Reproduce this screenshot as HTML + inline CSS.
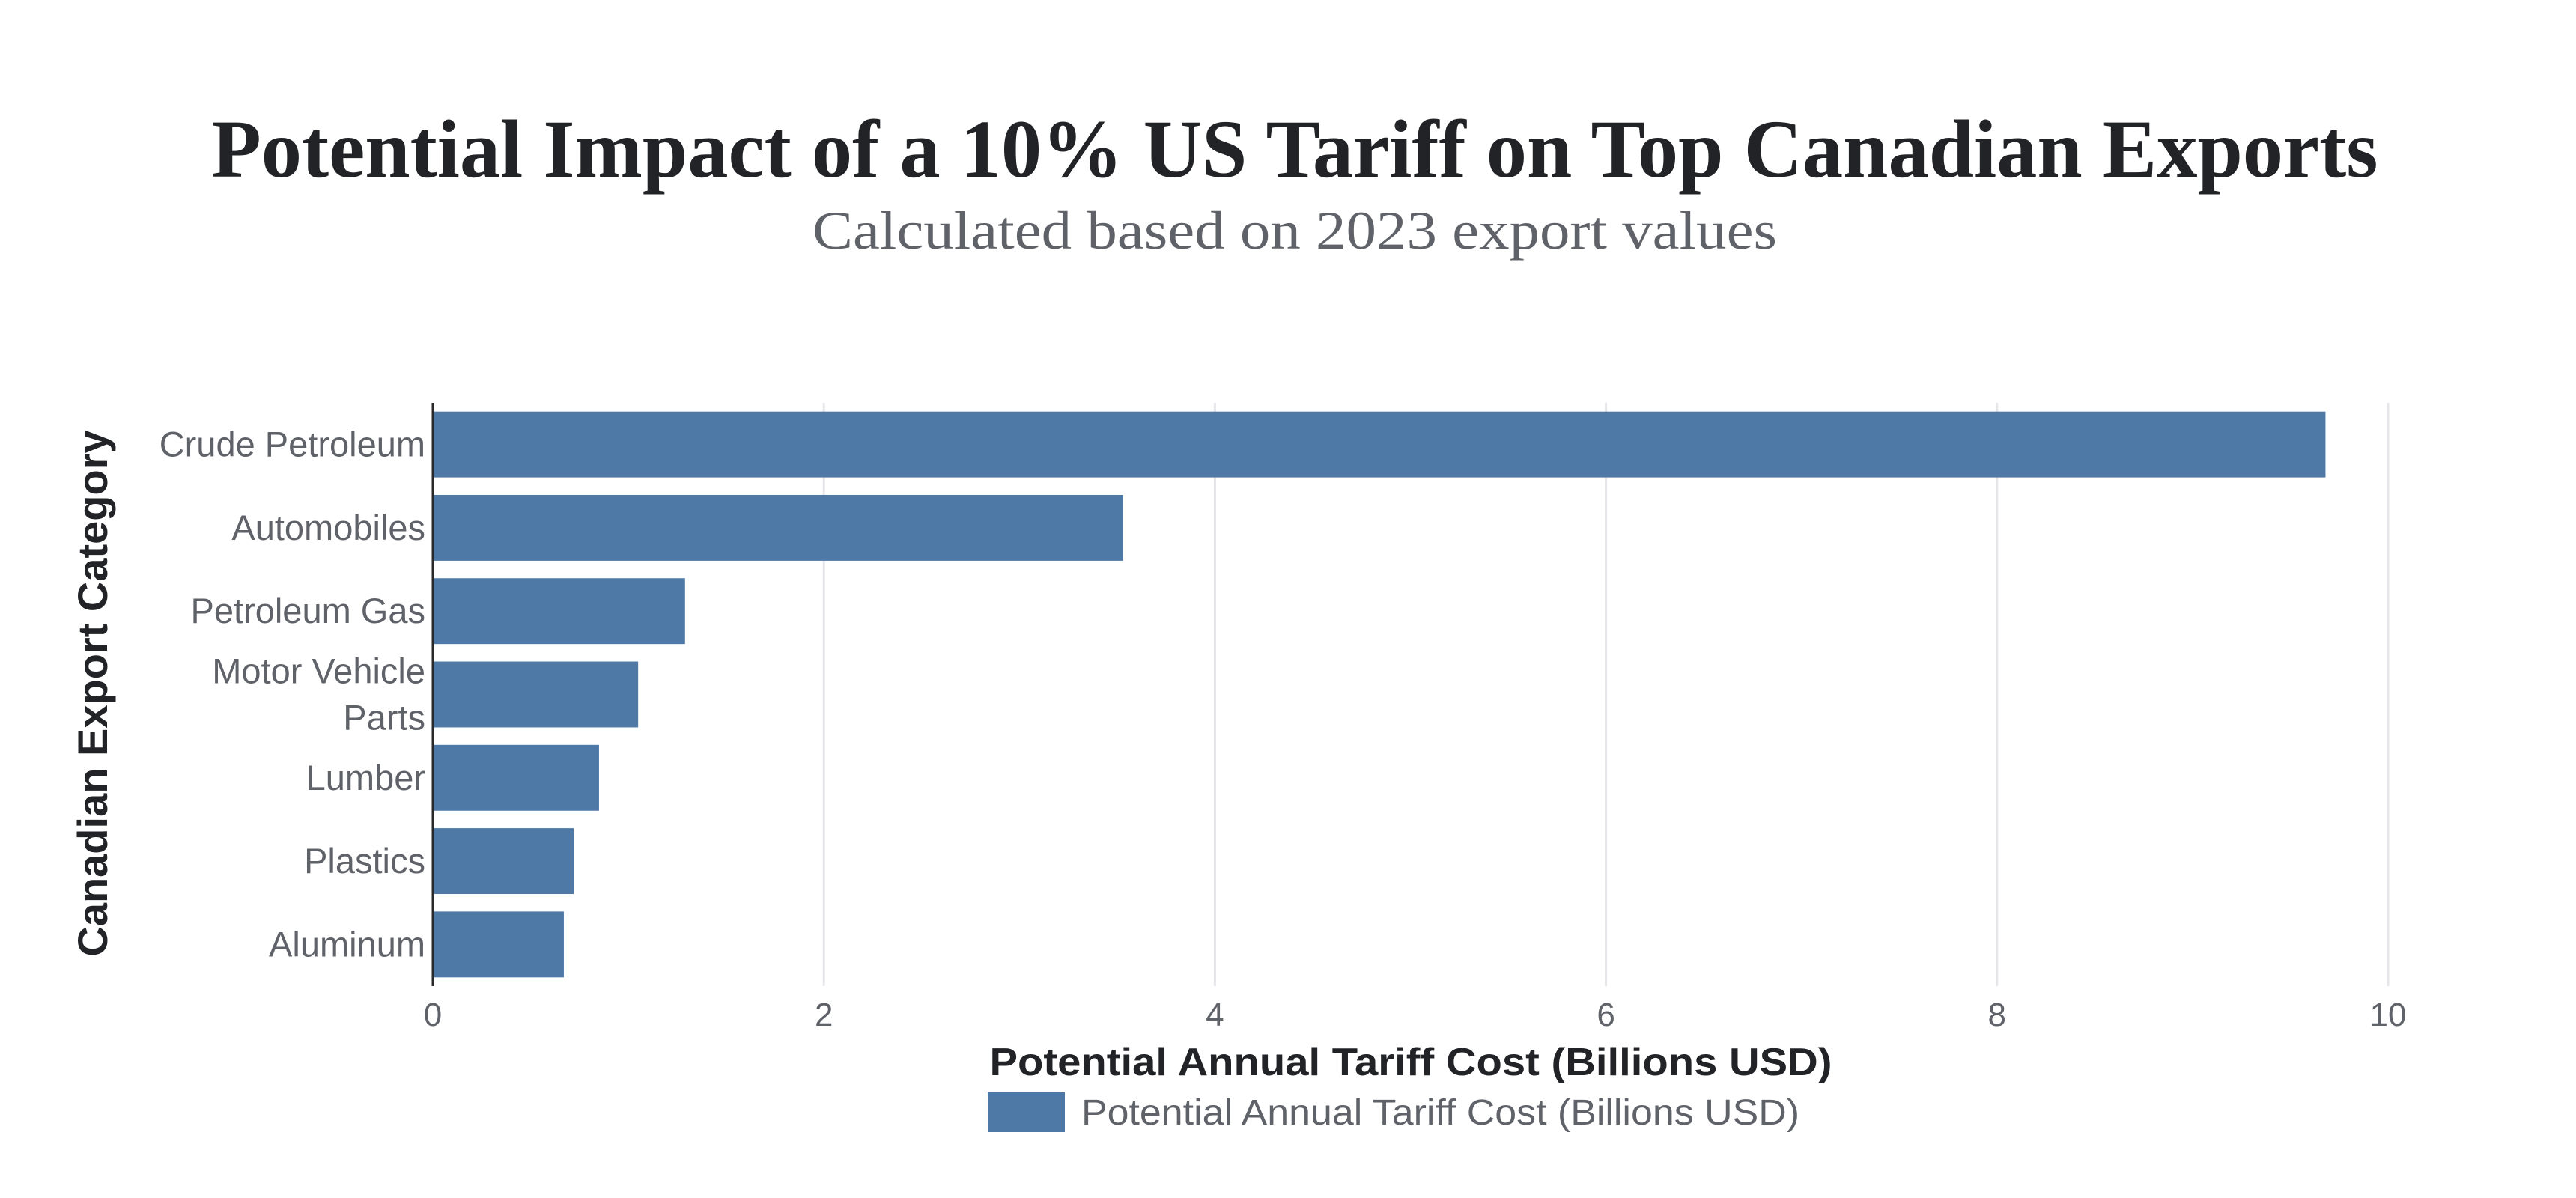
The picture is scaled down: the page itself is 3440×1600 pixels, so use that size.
<!DOCTYPE html>
<html><head><meta charset="utf-8">
<style>
html,body{margin:0;padding:0;background:#fff;}
svg{display:block;}
text{font-family:"Liberation Sans",sans-serif;}
.serif{font-family:"Liberation Serif",serif;}
</style></head>
<body>
<svg id="chart" width="3440" height="1600" viewBox="0 0 3440 1600" xmlns="http://www.w3.org/2000/svg">
  <text class="serif" x="1729" y="236" text-anchor="middle" font-size="110" font-weight="bold" fill="#222326" textLength="2893" lengthAdjust="spacingAndGlyphs">Potential Impact of a 10% US Tariff on Top Canadian Exports</text>
  <text class="serif" x="1729" y="332" text-anchor="middle" font-size="72" fill="#5f6268" textLength="1288" lengthAdjust="spacingAndGlyphs">Calculated based on 2023 export values</text>
  <g id="grid"></g>
  <g id="bars"></g>
  <g id="yticks"></g>
  <g id="xticks"></g>
  <line x1="578" y1="538" x2="578" y2="1317" stroke="#2a2a2a" stroke-width="3"/>
  <text x="0" y="0" transform="translate(143,926) rotate(-90)" text-anchor="middle" font-size="56" font-weight="bold" fill="#222326">Canadian Export Category</text>
  <text x="1884" y="1436" text-anchor="middle" font-size="52" font-weight="bold" fill="#222326" textLength="1125" lengthAdjust="spacingAndGlyphs">Potential Annual Tariff Cost (Billions USD)</text>
  <g>
    <rect x="1319" y="1459" width="103" height="53" fill="#4e79a7"/>
    <text x="1444" y="1502" font-size="48" fill="#5f6268" textLength="959" lengthAdjust="spacingAndGlyphs">Potential Annual Tariff Cost (Billions USD)</text>
  </g>
</svg>
<script>
const categories = [["Crude Petroleum"],["Automobiles"],["Petroleum Gas"],["Motor Vehicle","Parts"],["Lumber"],["Plastics"],["Aluminum"]];
const values = [9.68, 3.53, 1.29, 1.05, 0.85, 0.72, 0.67];
const xTicks = [0, 2, 4, 6, 8, 10];

const NS = "http://www.w3.org/2000/svg";
const X0 = 578, X1 = 3189, XMIN = 0, XMAX = 10;
const Y0 = 538, Y1 = 1317;
function xScale(v){ return X0 + (v - XMIN) / (XMAX - XMIN) * (X1 - X0); }
const band = (Y1 - Y0) / categories.length;
function yCenter(i){ return Y0 + band * (i + 0.5); }
const barH = band * 0.79;

function mk(tag, attrs){ const e = document.createElementNS(NS, tag); for (const k in attrs) e.setAttribute(k, attrs[k]); return e; }

const grid = document.getElementById('grid');
const xt = document.getElementById('xticks');
xTicks.forEach(t => {
  if (t !== 0) {
    const l = mk('line', {x1: xScale(t), x2: xScale(t), y1: Y0, y2: Y1, stroke: '#e6e6ea', 'stroke-width': 3});
    
    
    grid.appendChild(l);
  }
  const tx = mk('text', {x: xScale(t), y: 1370, 'text-anchor': 'middle', 'font-size': 44, fill: '#5f6268'});
  tx.textContent = t;
  
  
  xt.appendChild(tx);
});

const bars = document.getElementById('bars');
const yt = document.getElementById('yticks');
categories.forEach((c, i) => {
  const cy = yCenter(i);
  const r = mk('rect', {x: xScale(0), y: cy - barH / 2, width: xScale(values[i]) - xScale(0), height: barH, fill: '#4e79a7'});
  
  
  bars.appendChild(r);
  const tx = mk('text', {x: 568, y: cy + 16, 'text-anchor': 'end', 'font-size': 47, fill: '#5f6268'});
  
  
  if (c.length === 1) { tx.textContent = c[0]; }
  else {
    c.forEach((line, j) => {
      const ts = mk('tspan', {x: 568, dy: j === 0 ? -31 : 62});
      ts.textContent = line;
      tx.appendChild(ts);
    });
  }
  yt.appendChild(tx);
});
</script>
</body></html>
